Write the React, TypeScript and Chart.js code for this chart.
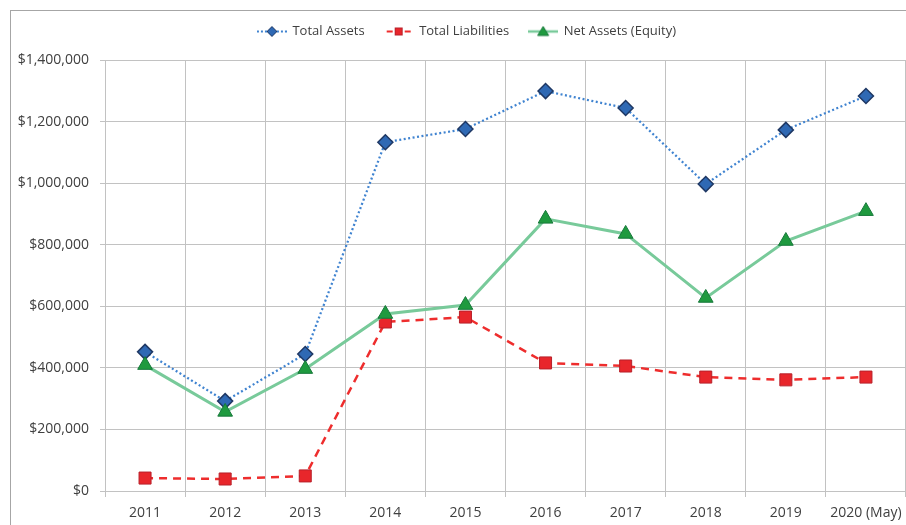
import React, { useEffect, useRef } from 'react';
import { Chart, registerables } from 'chart.js';

Chart.register(...registerables);

const categories = ['2011', '2012', '2013', '2014', '2015', '2016', '2017', '2018', '2019', '2020 (May)'];
const totalAssets = [452000, 292000, 445000, 1133000, 1176000, 1299000, 1244000, 997000, 1173000, 1283000];
const totalLiabilities = [42000, 39000, 49000, 549000, 565000, 416000, 406000, 370000, 361000, 370000];
const netAssets = [409000, 257000, 396000, 575000, 604000, 884000, 835000, 627000, 812000, 909000];
const seriesNames = ['Total Assets', 'Total Liabilities', 'Net Assets (Equity)'];
const yMin = 0;
const yMax = 1400000;
const yStep = 200000;

const FONT = "'Open Sans', sans-serif";
const GRID = '#c2c2c2';
const BLUE_LINE = '#3f83d0';
const BLUE_FILL = '#2f69b4';
const BLUE_EDGE = '#1f3864';
const RED_LINE = '#ee2d2d';
const RED_FILL = '#e8262b';
const RED_EDGE = '#b8202a';
const GREEN_LINE = '#78ca9a';
const GREEN_FILL = '#1f9a3f';
const GREEN_EDGE = '#16783a';

function makeIcon(draw: (ctx: CanvasRenderingContext2D) => void) {
  const c = document.createElement('canvas');
  c.width = 30;
  c.height = 14;
  const ctx = c.getContext('2d') as CanvasRenderingContext2D;
  draw(ctx);
  return c;
}

const LEGEND_GAP = 12;
const LEGEND_SHIFT = 14;
const legendTweak = {
  id: 'legendTweak',
  beforeLayout(chart: any) {
    const lg = chart.legend;
    if (lg && !lg.__gap) {
      const orig = lg.fit;
      lg.fit = function () {
        orig.call(this);
        this.height += LEGEND_GAP;
      };
      lg.__gap = true;
    }
  },
  afterLayout(chart: any) {
    const lg = chart.legend;
    if (lg) {
      lg.left += LEGEND_SHIFT;
      lg.right += LEGEND_SHIFT;
    }
  },
};

export default function App() {
  const ref = useRef<HTMLCanvasElement | null>(null);

  useEffect(() => {
    if (!ref.current) return;

    const iconAssets = makeIcon((ctx) => {
      ctx.strokeStyle = BLUE_LINE;
      ctx.lineWidth = 2;
      ctx.setLineDash([2, 2]);
      ctx.beginPath();
      ctx.moveTo(0, 7);
      ctx.lineTo(30, 7);
      ctx.stroke();
      ctx.setLineDash([]);
      ctx.beginPath();
      ctx.moveTo(15, 2);
      ctx.lineTo(20, 7);
      ctx.lineTo(15, 12);
      ctx.lineTo(10, 7);
      ctx.closePath();
      ctx.fillStyle = BLUE_FILL;
      ctx.fill();
      ctx.strokeStyle = BLUE_EDGE;
      ctx.lineWidth = 1;
      ctx.stroke();
    });
    const iconLiab = makeIcon((ctx) => {
      ctx.strokeStyle = RED_LINE;
      ctx.lineWidth = 2;
      ctx.setLineDash([6, 3]);
      ctx.beginPath();
      ctx.moveTo(3, 7);
      ctx.lineTo(27, 7);
      ctx.stroke();
      ctx.setLineDash([]);
      ctx.fillStyle = RED_FILL;
      ctx.fillRect(11, 3, 8, 8);
      ctx.strokeStyle = RED_EDGE;
      ctx.lineWidth = 1;
      ctx.strokeRect(11.5, 3.5, 7, 7);
    });
    const iconNet = makeIcon((ctx) => {
      ctx.strokeStyle = GREEN_LINE;
      ctx.lineWidth = 2.5;
      ctx.beginPath();
      ctx.moveTo(0, 7);
      ctx.lineTo(30, 7);
      ctx.stroke();
      ctx.beginPath();
      ctx.moveTo(15, 2);
      ctx.lineTo(20.5, 11);
      ctx.lineTo(9.5, 11);
      ctx.closePath();
      ctx.fillStyle = GREEN_FILL;
      ctx.fill();
      ctx.strokeStyle = GREEN_EDGE;
      ctx.lineWidth = 1;
      ctx.stroke();
    });
    const icons = [iconAssets, iconLiab, iconNet];

    const chart = new Chart(ref.current, {
      type: 'line',
      data: {
        labels: categories,
        datasets: [
          {
            label: seriesNames[0],
            data: totalAssets,
            order: 3,
            borderColor: BLUE_LINE,
            borderWidth: 2.25,
            borderDash: [2, 2.5],
            pointStyle: 'rectRot',
            pointRadius: 7.5,
            pointBackgroundColor: BLUE_FILL,
            pointBorderColor: BLUE_EDGE,
            pointBorderWidth: 1.5,
            fill: false,
          },
          {
            label: seriesNames[1],
            data: totalLiabilities,
            order: 2,
            borderColor: RED_LINE,
            borderWidth: 2.5,
            borderDash: [8, 6],
            pointStyle: 'rect',
            pointRadius: 8.5,
            pointBackgroundColor: RED_FILL,
            pointBorderColor: RED_EDGE,
            pointBorderWidth: 1,
            fill: false,
          },
          {
            label: seriesNames[2],
            data: netAssets,
            order: 1,
            borderColor: GREEN_LINE,
            borderWidth: 3,
            pointStyle: 'triangle',
            pointRadius: 8.5,
            pointBackgroundColor: GREEN_FILL,
            pointBorderColor: GREEN_EDGE,
            pointBorderWidth: 1,
            fill: false,
          },
        ],
      },
      options: {
        responsive: false,
        animation: false,
        layout: { autoPadding: false, padding: { top: 5, right: 0, bottom: 0, left: 0 } },
        plugins: {
          tooltip: { enabled: false },
          legend: {
            display: true,
            position: 'top',
            labels: {
              usePointStyle: true,
              pointStyleWidth: 28,
              padding: 20,
              color: '#404040',
              font: { family: FONT, size: 13 },
              sort: (a: any, b: any) => a.datasetIndex - b.datasetIndex,
              generateLabels: (c: any) => {
                const items = (Chart.defaults.plugins.legend.labels as any).generateLabels(c);
                return items.map((it: any) => ({ ...it, pointStyle: icons[it.datasetIndex] }));
              },
            },
          },
        },
        scales: {
          x: {
            offset: true,
            grid: {
              offset: true,
              color: GRID,
              lineWidth: 1,
              tickLength: 6,
              drawTicks: true,
            },
            border: { display: true, color: GRID },
            ticks: {
              color: '#404040',
              font: { family: FONT, size: 14 },
              padding: 8,
              maxRotation: 0,
              autoSkip: false,
            },
            afterFit: (s: any) => {
              s.height = 34;
              s.paddingLeft = 0;
              s.paddingRight = 0;
            },
          },
          y: {
            min: yMin,
            max: yMax,
            grid: { color: GRID, lineWidth: 1, tickLength: 5, drawTicks: true },
            border: { display: true, color: GRID },
            ticks: {
              stepSize: yStep,
              color: '#404040',
              font: { family: FONT, size: 14 },
              padding: 11,
              callback: (v: any) => '$' + Number(v).toLocaleString('en-US'),
            },
            afterFit: (s: any) => {
              s.width = 105;
            },
          },
        },
      },
      plugins: [legendTweak],
    });

    return () => chart.destroy();
  }, []);

  return (
    <div
      style={{
        position: 'absolute',
        left: 0,
        top: 0,
        width: 906,
        height: 525,
        overflow: 'hidden',
        background: '#ffffff',
      }}
    >
      <div
        style={{
          position: 'absolute',
          left: 10,
          top: 10,
          width: 960,
          height: 600,
          border: '1px solid #a6a6a6',
          boxSizing: 'border-box',
        }}
      />
      <canvas
        ref={ref}
        width={906}
        height={525}
        style={{ position: 'absolute', left: 0, top: 0, width: 906, height: 525 }}
      />
    </div>
  );
}
